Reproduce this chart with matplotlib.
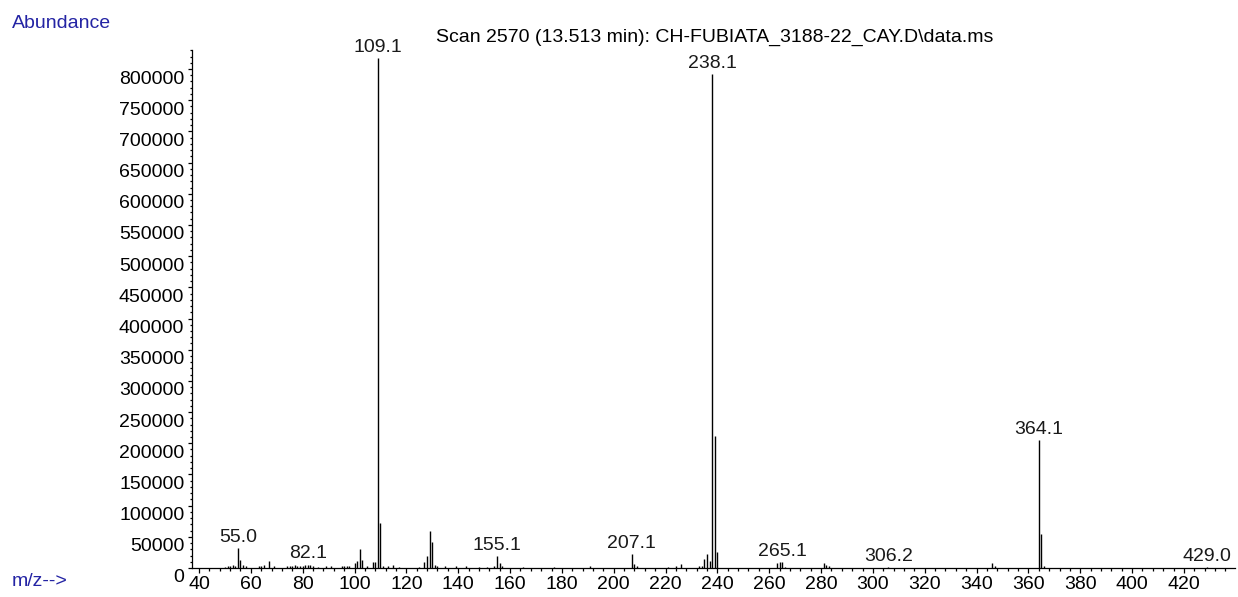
import matplotlib
matplotlib.use("Agg")
import matplotlib.pyplot as plt
from matplotlib import font_manager
from matplotlib.ticker import MultipleLocator
from matplotlib.transforms import ScaledTranslation

# 质谱峰 (m/z, 丰度)
mz = [50, 51, 52, 53, 54, 55, 56, 57, 58, 63, 64, 65, 67, 69,
      74, 75, 76, 77, 78, 79, 80, 81, 82, 83, 84, 86, 89, 91,
      95, 96, 97, 98, 100, 101, 102, 103, 105, 107, 108, 109, 110,
      111, 113, 115, 117, 125, 127, 128, 129, 130, 131, 132, 135,
      139, 143, 148, 151, 154, 155, 156, 157, 165, 177, 191,
      207, 208, 209, 221, 224, 226, 233, 234, 235, 236, 237, 238,
      239, 240, 263, 264, 265, 266, 281, 282, 283, 306, 346, 347,
      364, 365, 366, 429]
abundance = [2000, 3000, 2500, 5000, 3000, 32000, 13000, 5000, 2500, 4000, 3000, 5000, 12000, 3000,
             2500, 4000, 3500, 5500, 3000, 4000, 3000, 4500, 5500, 5000, 3000, 2000, 3000, 2500,
             2500, 3000, 4000, 2500, 8000, 11000, 30000, 13000, 2500, 9000, 10000, 818000, 72000,
             3500, 2500, 5000, 2000, 2000, 9000, 19000, 60000, 42000, 5000, 2500, 3000,
             3000, 2500, 2000, 2000, 4000, 19000, 8000, 2500, 2000, 1500, 3000,
             22000, 7000, 3000, 2000, 3000, 7000, 2500, 4000, 14000, 22000, 12000, 792000,
             212000, 25000, 8000, 10000, 10000, 2000, 8000, 5000, 3000, 1500, 8000, 3000,
             205000, 55000, 4000, 1200]

label_mz = [55, 82, 109, 155, 207, 238, 265, 306, 364, 429]
label_text = ["55.0", "82.1", "109.1", "155.1", "207.1", "238.1", "265.1", "306.2", "364.1", "429.0"]

title = "Scan 2570 (13.513 min): CH-FUBIATA_3188-22_CAY.D\\data.ms"

# 字体: 优先使用窄体
try:
    font_manager.findfont("Liberation Sans Narrow", fallback_to_default=False)
    fam, fs = "Liberation Sans Narrow", 17
except Exception:
    fam, fs = "Liberation Sans", 14
plt.rcParams["font.family"] = [fam, "DejaVu Sans"]
plt.rcParams["font.size"] = fs

W, H = 1238, 597
fig = plt.figure(figsize=(W / 100, H / 100), dpi=100)
ax = fig.add_axes([192 / W, (H - 568) / H, (1235 - 192) / W, (568 - 50) / H])

ax.vlines(mz, 0, abundance, color="black", linewidth=1.0)

peak = dict(zip(mz, abundance))
for m, t in zip(label_mz, label_text):
    ax.annotate(t, (m, peak[m]), xytext=(0, 1.5), textcoords="offset points",
                ha="center", va="bottom", color="#1a1a1a")

ax.set_xlim(37.3, 439.7)
ax.set_ylim(0, 830500)

ax.xaxis.set_major_locator(MultipleLocator(20))
ax.xaxis.set_minor_locator(MultipleLocator(4))
ax.yaxis.set_major_locator(MultipleLocator(50000))
ax.yaxis.set_minor_locator(MultipleLocator(10000))

for s in ["top", "right"]:
    ax.spines[s].set_visible(False)
for s in ["left", "bottom"]:
    ax.spines[s].set_linewidth(0.9)

ax.tick_params(axis="x", which="major", length=3.6, width=0.9, pad=2)
ax.tick_params(axis="x", which="minor", length=2.2, width=0.9)
ax.tick_params(axis="y", which="major", length=3.0, width=0.9, pad=2.5)
ax.tick_params(axis="y", which="minor", length=1.8, width=0.9)

ax.set_xticks(range(40, 421, 20))
ax.set_yticks(range(0, 800001, 50000))
ax.set_yticklabels([str(v) for v in range(0, 800001, 50000)])
ax.set_xticklabels([str(v) for v in range(40, 421, 20)])

# 纵轴刻度标签略微下移
shift = ScaledTranslation(0, -0.08, fig.dpi_scale_trans)
for lbl in ax.get_yticklabels():
    lbl.set_transform(lbl.get_transform() + shift)

fig.text(715 / W, 1 - 37 / H, title, ha="center", va="center")
fig.text(12 / W, 1 - 23 / H, "Abundance", ha="left", va="center", color="#2424a4")
fig.text(12 / W, 1 - 582 / H, "m/z-->", ha="left", va="center", color="#2424a4")

fig.savefig("out.png", dpi=100)
